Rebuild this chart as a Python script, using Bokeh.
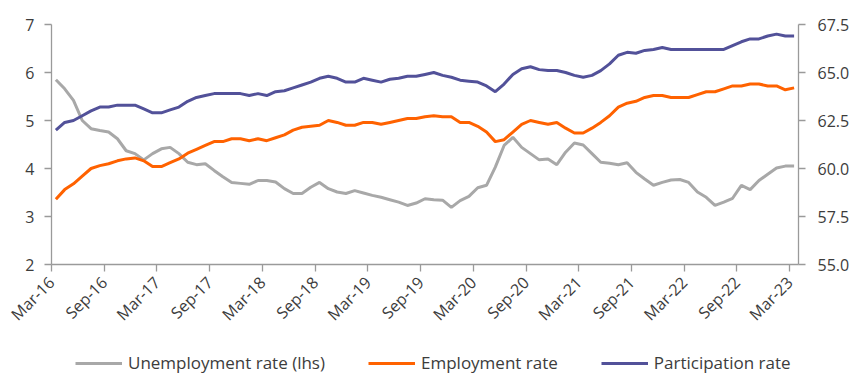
import numpy as np
from bokeh.plotting import figure
from bokeh.layouts import column
from bokeh.models import (Range1d, LinearAxis, FixedTicker, NumeralTickFormatter,
                          Legend, LegendItem)
from bokeh.embed import file_html
from bokeh.resources import INLINE

# Monthly data, Mar-16 .. Mar-23
unemployment = [5.85, 5.66, 5.42, 5.00, 4.83, 4.79, 4.76, 4.62, 4.37, 4.31,
                4.18, 4.31, 4.41, 4.44, 4.31, 4.13, 4.08, 4.10, 3.96, 3.83,
                3.71, 3.69, 3.67, 3.75, 3.75, 3.72, 3.58, 3.48, 3.48, 3.61,
                3.71, 3.58, 3.51, 3.48, 3.54, 3.49, 3.44, 3.40, 3.35, 3.30,
                3.23, 3.28, 3.37, 3.35, 3.34, 3.19, 3.33, 3.42, 3.60, 3.65,
                4.03, 4.48, 4.65, 4.44, 4.31, 4.18, 4.20, 4.08, 4.34, 4.53,
                4.49, 4.31, 4.13, 4.11, 4.08, 4.12, 3.92, 3.78, 3.65, 3.71,
                3.76, 3.77, 3.71, 3.51, 3.40, 3.23, 3.30, 3.38, 3.65, 3.56,
                3.75, 3.88, 4.01, 4.05, 4.05]

employment = [58.4, 58.9, 59.2, 59.6, 60.0, 60.15, 60.25, 60.4, 60.5, 60.55,
              60.4, 60.1, 60.1, 60.3, 60.5, 60.8, 61.0, 61.2, 61.4, 61.4,
              61.55, 61.55, 61.45, 61.55, 61.45, 61.6, 61.75, 62.0, 62.15, 62.2,
              62.25, 62.5, 62.4, 62.25, 62.25, 62.4, 62.4, 62.3, 62.4, 62.5,
              62.6, 62.6, 62.7, 62.75, 62.7, 62.7, 62.4, 62.4, 62.2, 61.9,
              61.4, 61.5, 61.9, 62.3, 62.5, 62.4, 62.3, 62.4, 62.1, 61.85,
              61.85, 62.1, 62.4, 62.75, 63.2, 63.4, 63.5, 63.7, 63.8, 63.8,
              63.7, 63.7, 63.7, 63.85, 64.0, 64.0, 64.15, 64.3, 64.3, 64.4,
              64.4, 64.3, 64.3, 64.1, 64.2]

participation = [62.0, 62.4, 62.5, 62.75, 63.0, 63.2, 63.2, 63.3, 63.3, 63.3,
                 63.1, 62.9, 62.9, 63.05, 63.2, 63.5, 63.7, 63.8, 63.9, 63.9,
                 63.9, 63.9, 63.8, 63.9, 63.8, 64.0, 64.05, 64.2, 64.35, 64.5,
                 64.7, 64.8, 64.7, 64.5, 64.5, 64.7, 64.6, 64.5, 64.65, 64.7,
                 64.8, 64.8, 64.9, 65.0, 64.85, 64.75, 64.6, 64.55, 64.5, 64.3,
                 64.0, 64.4, 64.9, 65.2, 65.3, 65.15, 65.1, 65.1, 65.0, 64.85,
                 64.75, 64.85, 65.1, 65.45, 65.9, 66.05, 66.0, 66.15, 66.2, 66.3,
                 66.2, 66.2, 66.2, 66.2, 66.2, 66.2, 66.2, 66.4, 66.6, 66.75,
                 66.75, 66.9, 67.0, 66.9, 66.9]

series_names = ["Unemployment rate (lhs)", "Employment rate", "Participation rate"]
series_colors = ["#a8a8a8", "#ff6200", "#525199"]

tick_labels = ["Mar-16", "Sep-16", "Mar-17", "Sep-17", "Mar-18", "Sep-18",
               "Mar-19", "Sep-19", "Mar-20", "Sep-20", "Mar-21", "Sep-21",
               "Mar-22", "Sep-22", "Mar-23"]
left_ticks = [2, 3, 4, 5, 6, 7]
right_ticks = [55.0, 57.5, 60.0, 62.5, 65.0, 67.5]

n = len(unemployment)
x = np.arange(n) + 0.5
tick_pos = [6 * i for i in range(len(tick_labels))]

FONT = "Open Sans"
TXT = "#3c3c3c"
AX = "#9a9a9a"

p = figure(width=852, height=336, output_backend="svg", toolbar_location=None,
           x_range=Range1d(0, n), y_range=Range1d(2, 7),
           min_border_left=51, min_border_right=53, min_border_top=24,
           min_border_bottom=72)
p.extra_y_ranges = {"r": Range1d(55, 67.5)}
p.outline_line_color = None
p.xgrid.visible = False
p.ygrid.visible = False
p.background_fill_color = "white"
p.border_fill_color = "white"

p.line(x, unemployment, line_color=series_colors[0], line_width=3)
p.line(x, employment, line_color=series_colors[1], line_width=3, y_range_name="r")
p.line(x, participation, line_color=series_colors[2], line_width=3, y_range_name="r")

raxis = LinearAxis(y_range_name="r")
p.add_layout(raxis, "right")

for ax in [p.xaxis[0], p.yaxis[0], raxis]:
    ax.axis_line_color = AX
    ax.axis_line_width = 1.3
    ax.major_tick_line_color = AX
    ax.major_tick_line_width = 1.3
    ax.major_tick_out = 7
    ax.major_tick_in = 0
    ax.minor_tick_line_color = None
    ax.major_label_text_font = FONT
    ax.major_label_text_font_size = "16px"
    ax.major_label_text_color = TXT

p.yaxis[0].ticker = FixedTicker(ticks=left_ticks)
p.yaxis[0].major_label_standoff = 10
raxis.ticker = FixedTicker(ticks=right_ticks)
raxis.formatter = NumeralTickFormatter(format="0.0")
raxis.major_label_standoff = 12

p.xaxis[0].ticker = FixedTicker(ticks=tick_pos)
p.xaxis[0].major_label_overrides = {t: l for t, l in zip(tick_pos, tick_labels)}
p.xaxis[0].major_label_orientation = np.pi / 4
p.xaxis[0].major_label_standoff = 8

# Legend strip (its sample lines lie outside the strip's visible range)
lg = figure(width=852, height=38, output_backend="svg", toolbar_location=None,
            x_axis_type=None, y_axis_type=None, min_border=0,
            x_range=Range1d(0, 1), y_range=Range1d(0, 1))
lg.outline_line_color = None
lg.xgrid.visible = False
lg.ygrid.visible = False
items = []
for name, col in zip(series_names, series_colors):
    r = lg.line([-10, -9], [-10, -10], line_color=col, line_width=3)
    items.append(LegendItem(label=name, renderers=[r]))
legend = Legend(items=items, orientation="horizontal", location=(24, 0),
                margin=0, padding=0, spacing=43, glyph_width=47, glyph_height=16,
                label_height=16, label_standoff=6,
                label_text_font=FONT, label_text_font_size="17px",
                label_text_color=TXT, border_line_color=None,
                background_fill_alpha=0)
lg.add_layout(legend, "center")

layout = column(p, lg, spacing=0)
open("out.html", "w").write(file_html(layout, INLINE))
